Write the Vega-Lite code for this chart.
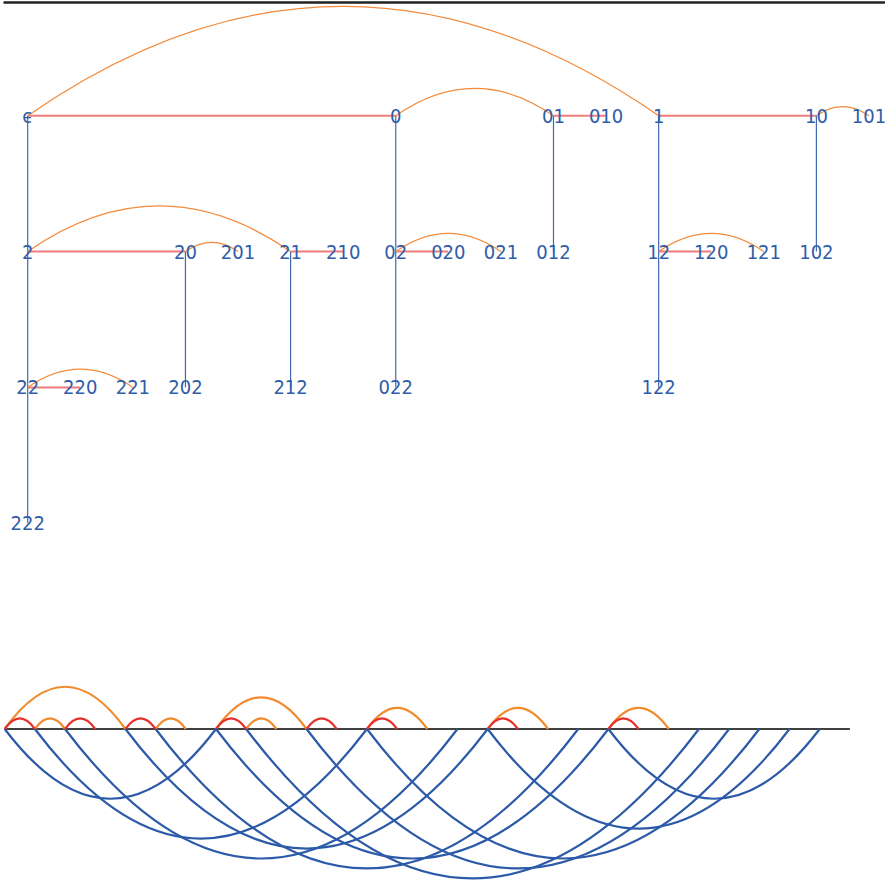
{
  "$schema": "https://vega.github.io/schema/vega-lite/v6.json",
  "padding": 0,
  "spacing": 30,
  "background": "white",
  "config": {"view": {"stroke": null}},
  "datasets": {
    "treeNodes": [
      {"label": "ϵ", "col": 0, "row": 0}, {"label": "0", "col": 7, "row": 0}, {"label": "01", "col": 10, "row": 0},
      {"label": "010", "col": 11, "row": 0}, {"label": "1", "col": 12, "row": 0}, {"label": "10", "col": 15, "row": 0},
      {"label": "101", "col": 16, "row": 0},
      {"label": "2", "col": 0, "row": 1}, {"label": "20", "col": 3, "row": 1}, {"label": "201", "col": 4, "row": 1},
      {"label": "21", "col": 5, "row": 1}, {"label": "210", "col": 6, "row": 1}, {"label": "02", "col": 7, "row": 1},
      {"label": "020", "col": 8, "row": 1}, {"label": "021", "col": 9, "row": 1}, {"label": "012", "col": 10, "row": 1},
      {"label": "12", "col": 12, "row": 1}, {"label": "120", "col": 13, "row": 1}, {"label": "121", "col": 14, "row": 1},
      {"label": "102", "col": 15, "row": 1},
      {"label": "22", "col": 0, "row": 2}, {"label": "220", "col": 1, "row": 2}, {"label": "221", "col": 2, "row": 2},
      {"label": "202", "col": 3, "row": 2}, {"label": "212", "col": 5, "row": 2}, {"label": "022", "col": 7, "row": 2},
      {"label": "122", "col": 12, "row": 2},
      {"label": "222", "col": 0, "row": 3}
    ],
    "treeEdges": [
      {"source": "ϵ", "target": "0", "letter": "0", "c1": 0, "r1": 0, "c2": 7, "r2": 0, "span": 7},
      {"source": "01", "target": "010", "letter": "0", "c1": 10, "r1": 0, "c2": 11, "r2": 0, "span": 1},
      {"source": "1", "target": "10", "letter": "0", "c1": 12, "r1": 0, "c2": 15, "r2": 0, "span": 3},
      {"source": "2", "target": "20", "letter": "0", "c1": 0, "r1": 1, "c2": 3, "r2": 1, "span": 3},
      {"source": "21", "target": "210", "letter": "0", "c1": 5, "r1": 1, "c2": 6, "r2": 1, "span": 1},
      {"source": "02", "target": "020", "letter": "0", "c1": 7, "r1": 1, "c2": 8, "r2": 1, "span": 1},
      {"source": "12", "target": "120", "letter": "0", "c1": 12, "r1": 1, "c2": 13, "r2": 1, "span": 1},
      {"source": "22", "target": "220", "letter": "0", "c1": 0, "r1": 2, "c2": 1, "r2": 2, "span": 1},
      {"source": "ϵ", "target": "1", "letter": "1", "c1": 0, "r1": 0, "c2": 12, "r2": 0, "span": 12},
      {"source": "0", "target": "01", "letter": "1", "c1": 7, "r1": 0, "c2": 10, "r2": 0, "span": 3},
      {"source": "10", "target": "101", "letter": "1", "c1": 15, "r1": 0, "c2": 16, "r2": 0, "span": 1},
      {"source": "2", "target": "21", "letter": "1", "c1": 0, "r1": 1, "c2": 5, "r2": 1, "span": 5},
      {"source": "20", "target": "201", "letter": "1", "c1": 3, "r1": 1, "c2": 4, "r2": 1, "span": 1},
      {"source": "02", "target": "021", "letter": "1", "c1": 7, "r1": 1, "c2": 9, "r2": 1, "span": 2},
      {"source": "12", "target": "121", "letter": "1", "c1": 12, "r1": 1, "c2": 14, "r2": 1, "span": 2},
      {"source": "22", "target": "221", "letter": "1", "c1": 0, "r1": 2, "c2": 2, "r2": 2, "span": 2},
      {"source": "ϵ", "target": "2", "letter": "2", "c1": 0, "r1": 0, "c2": 0, "r2": 1, "span": 0},
      {"source": "0", "target": "02", "letter": "2", "c1": 7, "r1": 0, "c2": 7, "r2": 1, "span": 0},
      {"source": "01", "target": "012", "letter": "2", "c1": 10, "r1": 0, "c2": 10, "r2": 1, "span": 0},
      {"source": "1", "target": "12", "letter": "2", "c1": 12, "r1": 0, "c2": 12, "r2": 1, "span": 0},
      {"source": "10", "target": "102", "letter": "2", "c1": 15, "r1": 0, "c2": 15, "r2": 1, "span": 0},
      {"source": "2", "target": "22", "letter": "2", "c1": 0, "r1": 1, "c2": 0, "r2": 2, "span": 0},
      {"source": "20", "target": "202", "letter": "2", "c1": 3, "r1": 1, "c2": 3, "r2": 2, "span": 0},
      {"source": "21", "target": "212", "letter": "2", "c1": 5, "r1": 1, "c2": 5, "r2": 2, "span": 0},
      {"source": "02", "target": "022", "letter": "2", "c1": 7, "r1": 1, "c2": 7, "r2": 2, "span": 0},
      {"source": "12", "target": "122", "letter": "2", "c1": 12, "r1": 1, "c2": 12, "r2": 2, "span": 0},
      {"source": "22", "target": "222", "letter": "2", "c1": 0, "r1": 2, "c2": 0, "r2": 3, "span": 0}
    ],
    "arcEdges": [
      {"source": "ϵ", "target": "0", "letter": "0", "from": 0, "to": 1, "span": 1},
      {"source": "01", "target": "010", "letter": "0", "from": 2, "to": 3, "span": 1},
      {"source": "1", "target": "10", "letter": "0", "from": 4, "to": 5, "span": 1},
      {"source": "2", "target": "20", "letter": "0", "from": 7, "to": 8, "span": 1},
      {"source": "21", "target": "210", "letter": "0", "from": 10, "to": 11, "span": 1},
      {"source": "02", "target": "020", "letter": "0", "from": 12, "to": 13, "span": 1},
      {"source": "12", "target": "120", "letter": "0", "from": 16, "to": 17, "span": 1},
      {"source": "22", "target": "220", "letter": "0", "from": 20, "to": 21, "span": 1},
      {"source": "ϵ", "target": "1", "letter": "1", "from": 0, "to": 4, "span": 4},
      {"source": "0", "target": "01", "letter": "1", "from": 1, "to": 2, "span": 1},
      {"source": "10", "target": "101", "letter": "1", "from": 5, "to": 6, "span": 1},
      {"source": "2", "target": "21", "letter": "1", "from": 7, "to": 10, "span": 3},
      {"source": "20", "target": "201", "letter": "1", "from": 8, "to": 9, "span": 1},
      {"source": "02", "target": "021", "letter": "1", "from": 12, "to": 14, "span": 2},
      {"source": "12", "target": "121", "letter": "1", "from": 16, "to": 18, "span": 2},
      {"source": "22", "target": "221", "letter": "1", "from": 20, "to": 22, "span": 2},
      {"source": "ϵ", "target": "2", "letter": "2", "from": 0, "to": 7, "span": 7},
      {"source": "0", "target": "02", "letter": "2", "from": 1, "to": 12, "span": 11},
      {"source": "01", "target": "012", "letter": "2", "from": 2, "to": 15, "span": 13},
      {"source": "1", "target": "12", "letter": "2", "from": 4, "to": 16, "span": 12},
      {"source": "10", "target": "102", "letter": "2", "from": 5, "to": 19, "span": 14},
      {"source": "2", "target": "22", "letter": "2", "from": 7, "to": 20, "span": 13},
      {"source": "20", "target": "202", "letter": "2", "from": 8, "to": 23, "span": 15},
      {"source": "21", "target": "212", "letter": "2", "from": 10, "to": 24, "span": 14},
      {"source": "02", "target": "022", "letter": "2", "from": 12, "to": 25, "span": 13},
      {"source": "12", "target": "122", "letter": "2", "from": 16, "to": 26, "span": 10},
      {"source": "22", "target": "222", "letter": "2", "from": 20, "to": 27, "span": 7}
    ]
  },
  "vconcat": [
    {
      "width": 885,
      "height": 570,
      "layer": [
        {
          "data": {"name": "treeEdges"},
          "transform": [{"filter": {"field": "letter", "equal": "0"}}],
          "mark": {"type": "rule", "color": "#f07c7c", "strokeWidth": 2},
          "encoding": {
            "x": {"field": "c1", "type": "quantitative", "scale": {"domain": [-0.4698, 16.362], "nice": false, "zero": false},
                  "axis": {"orient": "top", "domain": true, "domainColor": "#222222", "domainWidth": 2.5, "ticks": false, "labels": false, "grid": false, "title": null, "offset": -2}},
            "x2": {"field": "c2"},
            "y": {"field": "r1", "type": "quantitative", "scale": {"domain": [-0.8527, 3.3446], "reverse": true, "nice": false, "zero": false}, "axis": null}
          }
        },
        {
          "data": {"name": "treeEdges"},
          "transform": [{"filter": {"field": "letter", "equal": "2"}}],
          "mark": {"type": "rule", "color": "#3f68b3", "strokeWidth": 1.2},
          "encoding": {
            "x": {"field": "c1", "type": "quantitative", "scale": {"domain": [-0.4698, 16.362], "nice": false, "zero": false}},
            "y": {"field": "r1", "type": "quantitative", "scale": {"domain": [-0.8527, 3.3446], "reverse": true, "nice": false, "zero": false}, "axis": null},
            "y2": {"field": "r2"}
          }
        },
        {
          "data": {"name": "treeEdges"},
          "transform": [{"filter": {"field": "letter", "equal": "1"}}],
          "mark": {"type": "point", "shape": "M0,0 Q1,-0.694 2,0", "filled": false, "stroke": "#f38b3c", "strokeWidth": 1.2, "opacity": 1},
          "encoding": {
            "x": {"field": "c1", "type": "quantitative", "scale": {"domain": [-0.4698, 16.362], "nice": false, "zero": false}},
            "y": {"field": "r1", "type": "quantitative", "scale": {"domain": [-0.8527, 3.3446], "reverse": true, "nice": false, "zero": false}, "axis": null},
            "size": {"field": "span", "type": "quantitative", "scale": {"type": "pow", "exponent": 2, "domain": [0, 16], "range": [0, 707786]}, "legend": null}
          }
        },
        {
          "data": {"name": "treeNodes"},
          "mark": {"type": "text", "font": "DejaVu Sans Condensed, Liberation Sans, sans-serif", "fontSize": 20, "color": "#2f5da8", "align": "center", "baseline": "middle", "dy": 1},
          "encoding": {
            "x": {"field": "col", "type": "quantitative", "scale": {"domain": [-0.4698, 16.362], "nice": false, "zero": false}},
            "y": {"field": "row", "type": "quantitative", "scale": {"domain": [-0.8527, 3.3446], "reverse": true, "nice": false, "zero": false}, "axis": null},
            "text": {"field": "label"}
          }
        }
      ]
    },
    {
      "width": 885,
      "height": 283,
      "layer": [
        {
          "data": {"values": [{"start": 0, "end": 28}]},
          "mark": {"type": "rule", "color": "#000000", "strokeWidth": 1.3},
          "encoding": {
            "x": {"field": "start", "type": "quantitative", "scale": {"domain": [-0.0563, 29.263], "nice": false, "zero": false}, "axis": null},
            "x2": {"field": "end"},
            "y": {"datum": 0, "type": "quantitative", "scale": {"domain": [-154, 129], "nice": false, "zero": false}, "axis": null}
          }
        },
        {
          "data": {"name": "arcEdges"},
          "transform": [{"filter": {"field": "letter", "equal": "1"}}],
          "mark": {"type": "point", "shape": "M0,0 Q1,-1.4 2,0", "filled": false, "stroke": "#f28a2e", "strokeWidth": 2.2, "opacity": 1},
          "encoding": {
            "x": {"field": "from", "type": "quantitative", "scale": {"domain": [-0.0563, 29.263], "nice": false, "zero": false}, "axis": null},
            "y": {"datum": 0, "type": "quantitative", "scale": {"domain": [-154, 129], "nice": false, "zero": false}, "axis": null},
            "size": {"field": "span", "type": "quantitative", "scale": {"type": "pow", "exponent": 2, "domain": [0, 28], "range": [0, 714329]}, "legend": null}
          }
        },
        {
          "data": {"name": "arcEdges"},
          "transform": [{"filter": {"field": "letter", "equal": "0"}}],
          "mark": {"type": "point", "shape": "M0,0 Q1,-1.4 2,0", "filled": false, "stroke": "#e8302a", "strokeWidth": 2.2, "opacity": 1},
          "encoding": {
            "x": {"field": "from", "type": "quantitative", "scale": {"domain": [-0.0563, 29.263], "nice": false, "zero": false}, "axis": null},
            "y": {"datum": 0, "type": "quantitative", "scale": {"domain": [-154, 129], "nice": false, "zero": false}, "axis": null},
            "size": {"field": "span", "type": "quantitative", "scale": {"type": "pow", "exponent": 2, "domain": [0, 28], "range": [0, 714329]}, "legend": null}
          }
        },
        {
          "data": {"name": "arcEdges"},
          "transform": [{"filter": {"field": "letter", "equal": "2"}}],
          "mark": {"type": "point", "shape": "M0,0 Q1,1.32 2,0", "filled": false, "stroke": "#2c5aa8", "strokeWidth": 2.2, "opacity": 1},
          "encoding": {
            "x": {"field": "from", "type": "quantitative", "scale": {"domain": [-0.0563, 29.263], "nice": false, "zero": false}, "axis": null},
            "y": {"datum": 0, "type": "quantitative", "scale": {"domain": [-154, 129], "nice": false, "zero": false}, "axis": null},
            "size": {"field": "span", "type": "quantitative", "scale": {"type": "pow", "exponent": 2, "domain": [0, 28], "range": [0, 714329]}, "legend": null}
          }
        }
      ]
    }
  ],
  "resolve": {"scale": {"size": "independent", "x": "independent", "y": "independent"}}
}
